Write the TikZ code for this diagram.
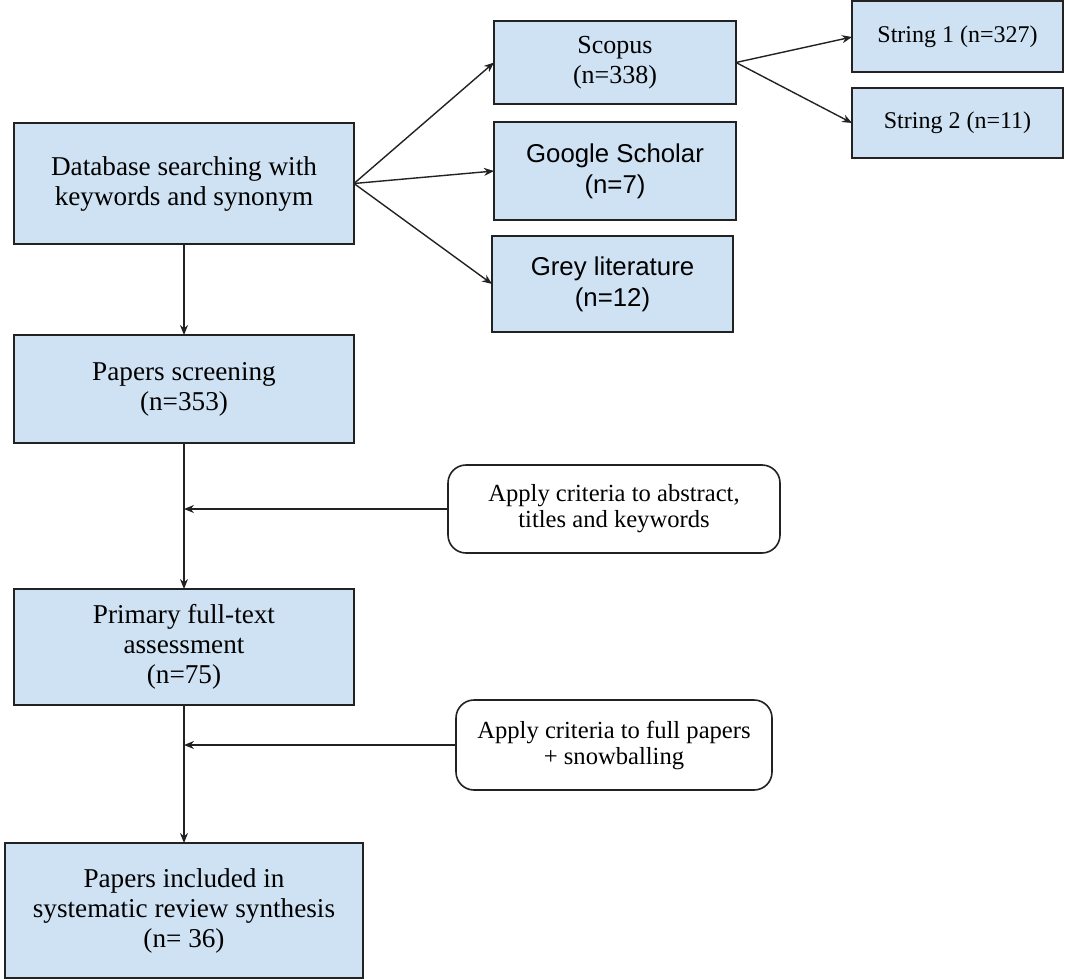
\documentclass[tikz,border=0pt]{standalone}
\usepackage{fontspec}
\setmainfont{Liberation Serif}
\newfontfamily\gsans{Liberation Sans}
\usetikzlibrary{positioning,arrows.meta,calc}

\definecolor{boxblue}{HTML}{CFE2F3}
\definecolor{boxline}{HTML}{222222}

\tikzset{
    stage/.style={draw=boxline, line width=1pt, fill=boxblue, align=center,
        inner sep=0pt, outer sep=0pt, font=\fontsize{13.6}{15}\selectfont},
    note/.style={draw=boxline, line width=0.8pt, rounded corners=9pt, fill=white,
        align=center, inner sep=0pt, outer sep=0pt, font=\fontsize{12.3}{13}\selectfont},
    link/.style={-{Stealth[length=5pt,width=4pt]}, line width=0.7pt, draw=boxline}
}

\begin{document}
\begin{tikzpicture}[x=0.5pt, y=-0.5pt]
    \useasboundingbox (0,0) rectangle (1065,979);
    % Define nodes
    \node (db) [stage, minimum width=170pt, minimum height=60.5pt] at (184,183.5)
        {Database searching with\\keywords and synonym};
    \node (scopus) [stage, minimum width=121pt, minimum height=41.5pt, font=\fontsize{13}{15}\selectfont] at (615,62.5)
        {Scopus\\(n=338)};
    \node (scholar) [stage, minimum width=121pt, minimum height=49pt, font=\gsans\fontsize{12.9}{15.5}\selectfont] at (615,171)
        {Google Scholar\\(n=7)};
    \node (grey) [stage, minimum width=120.5pt, minimum height=48pt, font=\gsans\fontsize{12.9}{15.5}\selectfont] at (612.5,284)
        {Grey literature\\(n=12)};
    \node (str1) [stage, minimum width=105.5pt, minimum height=35.5pt, font=\fontsize{12}{14}\selectfont] at (957.5,37)
        {String 1 (n=327)};
    \node (str2) [stage, minimum width=105.5pt, minimum height=35pt, font=\fontsize{12}{14}\selectfont] at (957.5,123)
        {String 2 (n=11)};

    \node (screen) [stage, minimum width=170pt, minimum height=54pt] at (184,389)
        {Papers screening\\(n=353)};
    \node (crit1) [note, minimum width=166pt, minimum height=44pt] at (614,509)
        {Apply criteria to abstract,\\titles and keywords};
    \node (primary) [stage, minimum width=170pt, minimum height=58pt] at (184,647)
        {Primary full-text\\assessment\\(n=75)};
    \node (crit2) [note, minimum width=158pt, minimum height=45pt] at (614,745)
        {Apply criteria to full papers\\+ snowballing};
    \node (incl) [stage, minimum width=179pt, minimum height=67.5pt] at (184,910.5)
        {Papers included in\\systematic review synthesis\\(n= 36)};

    % Draw arrows
    \draw[link] (db.east) -- (scopus.west);
    \draw[link] (db.east) -- (scholar.west);
    \draw[link] (db.east) -- (grey.west);

    \draw[link] (scopus.east) -- (str1.west);
    \draw[link] (scopus.east) -- (str2.west);

    \draw[link] (db.south) -- (screen.north);
    \draw[link] (screen.south) -- (primary.north);
    \draw[link] (primary.south) -- (incl.north);

    \draw[link] (crit1.west) -- (crit1.west -| screen.south);
    \draw[link] (crit2.west) -- (crit2.west -| primary.south);
\end{tikzpicture}
\end{document}
